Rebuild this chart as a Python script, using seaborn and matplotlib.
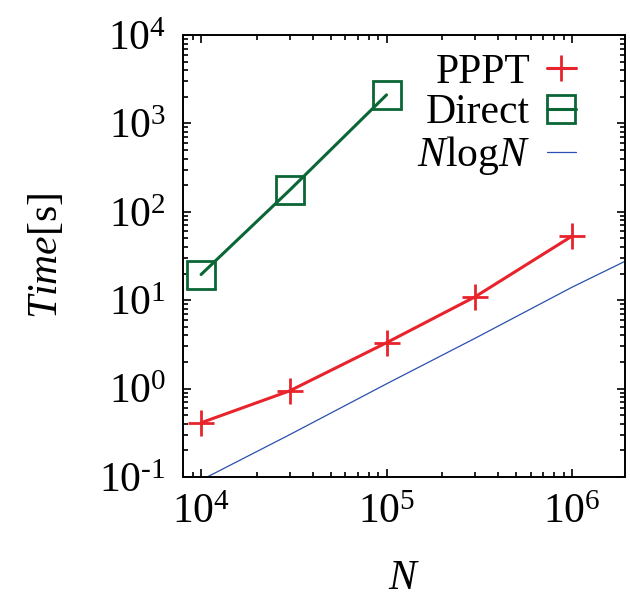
import matplotlib
matplotlib.use("Agg")
import matplotlib.pyplot as plt
from matplotlib.ticker import FuncFormatter
import numpy as np
import seaborn as sns

# data
n_pppt = [1e4, 3e4, 1e5, 3e5, 1e6]
t_pppt = [0.41, 0.94, 3.3, 10.9, 53]

n_direct = [1e4, 3e4, 1e5]
t_direct = [19.5, 175, 2100]

n_ref = [1e4, 3e4, 1e5, 3e5, 1e6, 2e6]
t_ref = [0.092, 0.30, 1.13, 3.7, 14, 28.5]

sns.set_theme(style="ticks")
plt.rcParams['font.family'] = ['Liberation Serif', 'DejaVu Serif']
plt.rcParams['mathtext.fontset'] = 'custom'
plt.rcParams['mathtext.rm'] = 'Liberation Serif'
plt.rcParams['mathtext.it'] = 'Liberation Serif:italic'
plt.rcParams['mathtext.bf'] = 'Liberation Serif:bold'
plt.rcParams['text.color'] = 'black'
plt.rcParams['axes.labelcolor'] = 'black'
plt.rcParams['xtick.color'] = 'black'
plt.rcParams['ytick.color'] = 'black'

red = '#e8232b'
green = '#0b6636'
blue = '#2a4fb0'


def pow10(v, pos):
    e = int(round(np.log10(v)))
    s = str(e).replace('-', r'\text{-}')
    return r'$\mathdefault{10^{%s}}$' % s


fig = plt.figure(figsize=(6.3, 5.98), dpi=100)
ax = fig.add_axes([0.29, 0.2025, 0.702, 0.739])

sns.lineplot(x=n_pppt, y=t_pppt, ax=ax, color=red, lw=2.2,
             marker='+', markersize=19, markeredgewidth=2.0,
             markeredgecolor=red, label='PPPT')
sns.lineplot(x=n_direct, y=t_direct, ax=ax, color=green, lw=2.2,
             marker='s', markersize=20, markeredgewidth=2.0,
             markerfacecolor='none', markeredgecolor=green, label='Direct')
sns.lineplot(x=n_ref, y=t_ref, ax=ax, color=blue, lw=0.9,
             label=r'$N\mathrm{log}N$')

ax.set_xscale('log')
ax.set_yscale('log')
ax.set_xlim(7960, 1.93e6)
ax.set_ylim(0.1, 1e4)
ax.xaxis.set_major_formatter(FuncFormatter(pow10))
ax.yaxis.set_major_formatter(FuncFormatter(pow10))

ax.tick_params(which='both', direction='in', top=True, right=True,
               labelsize=30, width=1.2)
ax.tick_params(which='major', length=6, pad=12)
ax.tick_params(which='minor', length=3.5)
for s in ax.spines.values():
    s.set_linewidth(1.4)
    s.set_color('black')

ax.set_xlabel(r'$N$', fontsize=30, labelpad=20)
ax.set_ylabel(r'$Time[\mathrm{s}]$', fontsize=30, labelpad=24)

ax.legend(loc='upper right', frameon=False, fontsize=30, markerfirst=False,
          handlelength=0.7, handletextpad=0.4, labelspacing=0.05,
          borderaxespad=0.3, bbox_to_anchor=(0.955, 1.025))

fig.savefig('out.png', dpi=100)
